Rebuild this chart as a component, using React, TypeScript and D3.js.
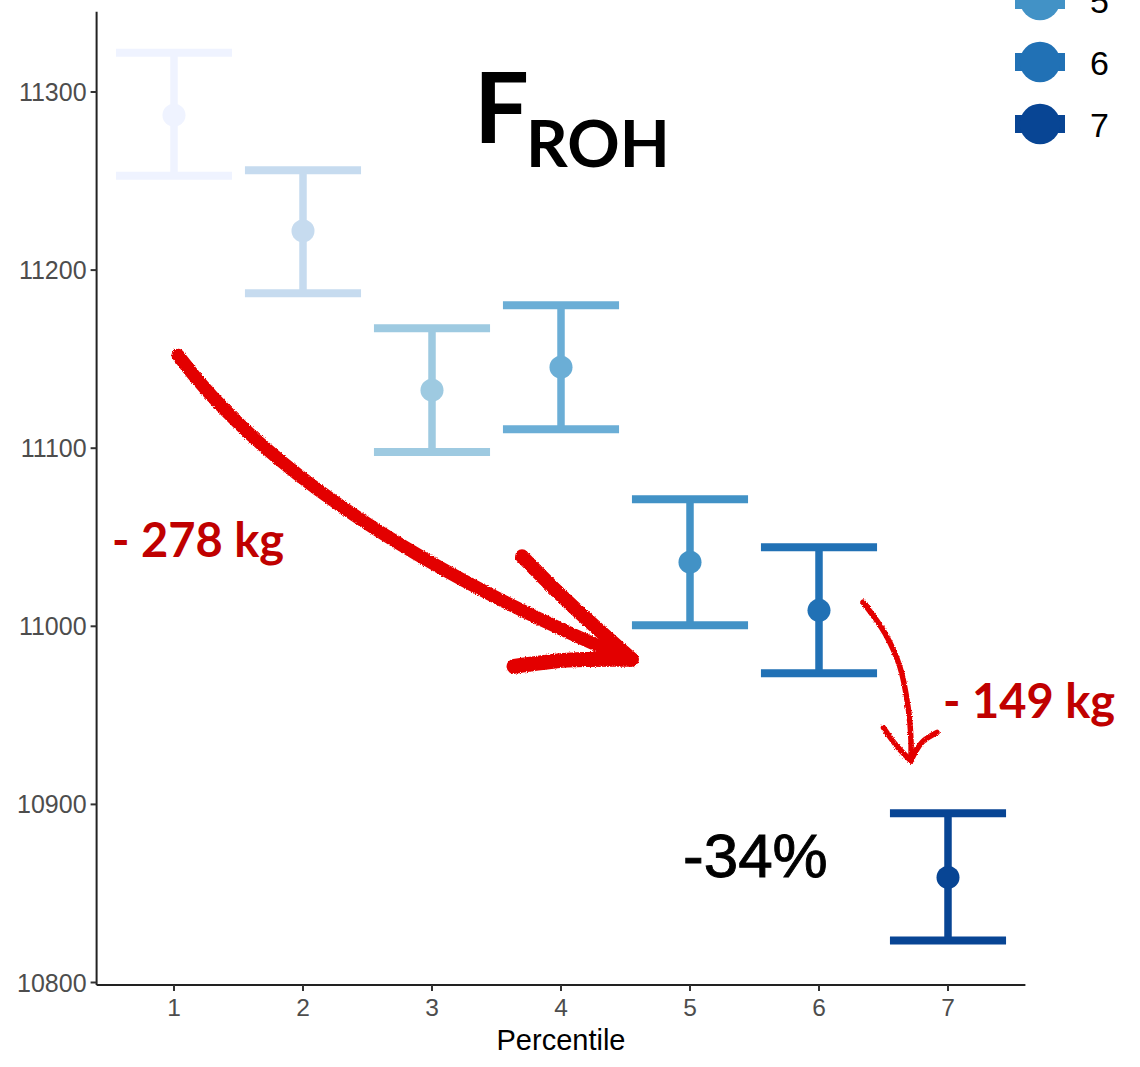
import React from "react";
import * as d3 from "d3";

// ---- data ----
const percentiles = [1, 2, 3, 4, 5, 6, 7];
const means = [11287, 11222, 11132.6, 11145.5, 11036, 11009, 10859];
const lowers = [11253, 11187, 11097.8, 11110.7, 11000.6, 10973.6, 10823.6];
const uppers = [11322, 11256, 11167.4, 11180.3, 11071.3, 11044.4, 10895];
const colors = ["#EFF3FF", "#C6DBEF", "#9ECAE1", "#6BAED6", "#4292C6", "#2171B5", "#084594"];
const yTicks = [10800, 10900, 11000, 11100, 11200, 11300];
const xTicks = [1, 2, 3, 4, 5, 6, 7];
const legendShown = [5, 6, 7]; // the rest of the legend lies above the picture

// annotation arrows in data coordinates [percentile, value]
const bigArrowCurve: [number, number][] = [[1.031, 11152.2], [1.977, 11059.6], [4.55, 10980.9]]; // start, control, end
const bigArrowBarbUp: [number, number][] = [[3.698, 11039.3], [4.05, 11014], [4.55, 10981.5]];
const bigArrowBarbDown: [number, number][] = [[3.636, 10977.5], [4.05, 10981], [4.54, 10981.5]];
const smallArrowShaft: [number, number][] = [
  [6.341, 11013.5], [6.512, 10996], [6.628, 10977], [6.69, 10955], [6.713, 10936], [6.712, 10924.7],
];
const smallArrowBarbL: [number, number][] = [[6.5, 10943], [6.6, 10933], [6.712, 10924.5]];
const smallArrowBarbR: [number, number][] = [[6.915, 10940.4], [6.8, 10935], [6.712, 10924.5]];

export default function App() {
  const W = 1140, H = 1067;
  const x = d3.scaleLinear().domain([1, 7]).range([174, 948]);
  const y = d3.scaleLinear().domain([10800, 11300]).range([982.5, 92]);
  const xMin = 0.4, xMax = 7.6;
  const yMin = 10798.6, yMax = 11345;
  const halfW = 0.45;

  const line = d3.line<[number, number]>()
    .x(d => x(d[0]))
    .y(d => y(d[1]))
    .curve(d3.curveCatmullRom.alpha(0.5));

  const bp = d3.path();
  bp.moveTo(x(bigArrowCurve[0][0]), y(bigArrowCurve[0][1]));
  bp.quadraticCurveTo(x(bigArrowCurve[1][0]), y(bigArrowCurve[1][1]), x(bigArrowCurve[2][0]), y(bigArrowCurve[2][1]));

  const legendItems = legendShown.map(p => ({ p, color: colors[p - 1], cy: 124 - (7 - p) * 62 }));
  const axisFont = "'Liberation Sans', Arial, sans-serif";

  return (
    <svg width={W} height={H} style={{ position: "absolute", left: 0, top: 0, background: "#fff" }}
      xmlns="http://www.w3.org/2000/svg">
      <defs>
        <filter id="rough" x="-10%" y="-10%" width="120%" height="120%">
          <feTurbulence type="fractalNoise" baseFrequency="0.9" numOctaves="2" seed="3" result="n" />
          <feDisplacementMap in="SourceGraphic" in2="n" scale="3" xChannelSelector="R" yChannelSelector="G" />
        </filter>
      </defs>
      <rect x={0} y={0} width={W} height={H} fill="#fff" />

      {/* error bars */}
      {percentiles.map((p, i) => (
        <g key={"eb" + p} stroke={colors[i]} fill="none">
          <line x1={x(p)} x2={x(p)} y1={y(lowers[i])} y2={y(uppers[i])} strokeWidth={7.5} />
          <line x1={x(p - halfW)} x2={x(p + halfW)} y1={y(uppers[i])} y2={y(uppers[i])} strokeWidth={8} />
          <line x1={x(p - halfW)} x2={x(p + halfW)} y1={y(lowers[i])} y2={y(lowers[i])} strokeWidth={8} />
        </g>
      ))}
      {percentiles.map((p, i) => (
        <circle key={"pt" + p} cx={x(p)} cy={y(means[i])} r={11.5} fill={colors[i]} />
      ))}

      {/* axes */}
      <line x1={x(xMin)} x2={x(xMin)} y1={y(yMin)} y2={y(yMax)} stroke="#222" strokeWidth={2} />
      <line x1={x(xMin)} x2={x(xMax)} y1={y(yMin)} y2={y(yMin)} stroke="#222" strokeWidth={2} />
      {yTicks.map(t => (
        <g key={"yt" + t}>
          <line x1={x(xMin) - 6} x2={x(xMin)} y1={y(t)} y2={y(t)} stroke="#333" strokeWidth={2} />
          <text x={x(xMin) - 10} y={y(t)} dy="0.36em" textAnchor="end"
            fontFamily={axisFont} fontSize={25} fill="#4D4D4D">{t}</text>
        </g>
      ))}
      {xTicks.map(t => (
        <g key={"xt" + t}>
          <line x1={x(t)} x2={x(t)} y1={y(yMin)} y2={y(yMin) + 6} stroke="#333" strokeWidth={2} />
          <text x={x(t)} y={1016} textAnchor="middle"
            fontFamily={axisFont} fontSize={24.5} fill="#4D4D4D">{t}</text>
        </g>
      ))}
      <text x={(x(xMin) + x(xMax)) / 2} y={1050} textAnchor="middle"
        fontFamily={axisFont} fontSize={29} fill="#000">Percentile</text>

      {/* legend (partly cropped at the top, as in the reference) */}
      {legendItems.map(it => (
        <g key={"lg" + it.p}>
          <rect x={1015} y={it.cy - 9} width={50} height={18} fill={it.color} />
          <circle cx={1040} cy={it.cy} r={20.3} fill={it.color} />
          <text x={1090} y={it.cy + 12.5} fontFamily={axisFont}
            fontSize={34} fill="#000">{it.p}</text>
        </g>
      ))}

      {/* title */}
      <text fontFamily="Lato, sans-serif" fontWeight={700} fill="#000">
        <tspan x={474} y={143} fontSize={97}>F</tspan>
        <tspan x={526} y={167} fontSize={65}>ROH</tspan>
      </text>

      {/* arrows */}
      <g filter="url(#rough)" stroke="#E30000" fill="none" strokeLinecap="round" strokeLinejoin="round">
        <path d={bp.toString()} strokeWidth={13} />
        <path d={line(bigArrowBarbUp) || ""} strokeWidth={14} />
        <path d={line(bigArrowBarbDown) || ""} strokeWidth={15} />
        <path d={line(smallArrowShaft) || ""} strokeWidth={5.5} />
        <path d={line(smallArrowBarbL) || ""} strokeWidth={5.5} />
        <path d={line(smallArrowBarbR) || ""} strokeWidth={5.5} />
      </g>

      {/* annotation texts */}
      <text x={112} y={557} fontFamily="Lato, sans-serif" fontWeight={700} fontSize={47} fill="#C00000">- 278 kg</text>
      <text x={943} y={718} fontFamily="Lato, sans-serif" fontWeight={700} fontSize={47} fill="#C00000">- 149 kg</text>
      <text x={683} y={877} fontFamily={axisFont} fontSize={62} fill="#000" stroke="#000" strokeWidth={0.9}>-34%</text>
    </svg>
  );
}
